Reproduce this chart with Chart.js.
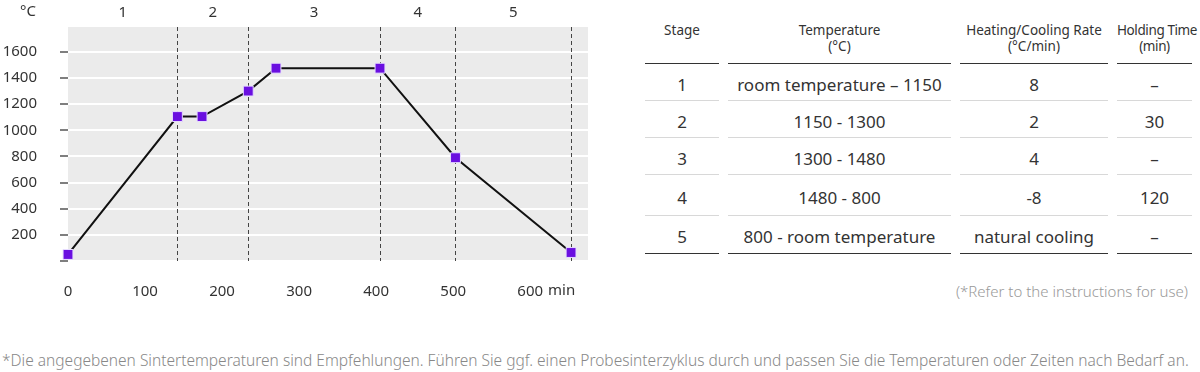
<!DOCTYPE html>
<html>
<head>
<meta charset="utf-8">
<script src="https://cdn.jsdelivr.net/npm/chart.js@4/dist/chart.umd.min.js"></script>
<style>
  body { margin: 0; background: #fff; font-family: "Noto Sans", sans-serif; color: #333; }
  #wrap { position: relative; width: 1200px; height: 372px; overflow: hidden; }
  #chartBox { position: absolute; left: 0; top: 0; width: 600px; height: 310px; }
  #stageTable { position: absolute; left: 636px; top: 14px; width: 565px; table-layout: fixed;
    border-collapse: separate; border-spacing: 9px 0; }
  #stageTable th { font-weight: 400; font-size: 13.5px; line-height: 16px; padding: 8px 0 9px 0; vertical-align: top;
    border-bottom: 1px solid #333; white-space: nowrap; text-align: center; }
  #stageTable th:last-child { letter-spacing: -0.4px; }
  #stageTable td { font-size: 17px; text-align: center; padding: 4px 0 0 0; border-bottom: 1px solid #d8d8d8; white-space: nowrap; }
  #stageTable tr:last-child td { border-bottom: 1px solid #333; }
  #refNote { position: absolute; right: 12px; top: 281px; font-size: 15px; font-weight: 300; color: #999; white-space: nowrap; }
  #footNote { position: absolute; left: 2px; top: 349px; font-size: 15.5px; font-weight: 300; color: #888; white-space: nowrap; }
</style>
</head>
<body>
<div id="wrap">
  <div id="chartBox"><canvas id="profile"></canvas></div>
  <table id="stageTable"><thead><tr id="headRow"></tr></thead><tbody id="bodyRows"></tbody></table>
  <div id="refNote">(*Refer to the instructions for use)</div>
  <div id="footNote">*Die angegebenen Sintertemperaturen sind Empfehlungen. Führen Sie ggf. einen Probesinterzyklus durch und passen Sie die Temperaturen oder Zeiten nach Bedarf an.</div>
</div>
<script>
// sintering profile
const timeMin = [0, 142, 174, 234, 270, 405, 503, 653];
const tempC = [50, 1105, 1105, 1300, 1475, 1475, 790, 65];

const stageNames = ['1', '2', '3', '4', '5'];
const stageEnds = [142, 234, 405, 503, 653];

const xTicks = [0, 100, 200, 300, 400, 500, 600];
const yTicks = [0, 200, 400, 600, 800, 1000, 1200, 1400, 1600];
const xMax = 675;
const yMax = 1790;

const tableHead = [['Stage'], ['Temperature', '(°C)'], ['Heating/Cooling Rate', '(°C/min)'], ['Holding Time', '(min)']];
const colWidths = [74, 223, 148, 75];
const rowHeights = [37, 37, 37, 41, 38];
const stageCol = ['1', '2', '3', '4', '5'];
const tempCol = ['room temperature – 1150', '1150 - 1300', '1300 - 1480', '1480 - 800', '800 - room temperature'];
const rateCol = ['8', '2', '4', '-8', 'natural cooling'];
const holdCol = ['–', '30', '–', '120', '–'];

// table
const headRow = document.getElementById('headRow');
tableHead.forEach((lines, i) => {
  const th = document.createElement('th');
  th.style.width = colWidths[i] + 'px';
  th.innerHTML = lines.join('<br>');
  headRow.appendChild(th);
});
const bodyRows = document.getElementById('bodyRows');
stageCol.forEach((s, r) => {
  const tr = document.createElement('tr');
  [s, tempCol[r], rateCol[r], holdCol[r]].forEach(txt => {
    const td = document.createElement('td');
    td.style.height = (rowHeights[r] - 5) + 'px';
    td.textContent = txt;
    tr.appendChild(td);
  });
  bodyRows.appendChild(tr);
});

const labelFont = '15px "Noto Sans", sans-serif';

const stagePlugin = {
  id: 'stages',
  beforeDraw(chart) {
    const a = chart.chartArea;
    const ctx = chart.ctx;
    ctx.save();
    ctx.fillStyle = '#ebebeb';
    ctx.fillRect(a.left, a.top, a.right - a.left, a.bottom - a.top);
    ctx.restore();
  },
  beforeDatasetsDraw(chart) {
    const a = chart.chartArea;
    const ctx = chart.ctx;
    const xs = chart.scales.x;
    ctx.save();
    ctx.strokeStyle = '#444';
    ctx.lineWidth = 1;
    ctx.setLineDash([4, 3]);
    stageEnds.forEach(t => {
      const px = Math.round(xs.getPixelForValue(t)) + 0.5;
      ctx.beginPath();
      ctx.moveTo(px, a.top);
      ctx.lineTo(px, a.bottom);
      ctx.stroke();
    });
    ctx.restore();
  },
  afterDraw(chart) {
    const ctx = chart.ctx;
    const xs = chart.scales.x;
    const a = chart.chartArea;
    ctx.save();
    ctx.font = labelFont;
    ctx.fillStyle = '#333';
    ctx.textBaseline = 'middle';
    ctx.textAlign = 'center';
    let start = 0;
    stageEnds.forEach((end, i) => {
      ctx.fillText(stageNames[i], xs.getPixelForValue((start + end) / 2), 13);
      start = end;
    });
    ctx.fillText('°C', 28, 12);
    // unit after the last x tick
    const last = xTicks[xTicks.length - 1];
    const pxLast = xs.getPixelForValue(last);
    ctx.textAlign = 'left';
    ctx.fillText('min', pxLast + ctx.measureText(String(last)).width / 2 + 5, a.bottom + 30);
    ctx.restore();
  }
};

new Chart(document.getElementById('profile'), {
  type: 'line',
  data: {
    datasets: [{
      data: timeMin.map((t, i) => ({ x: t, y: tempC[i] })),
      borderColor: '#111',
      borderWidth: 2,
      tension: 0,
      pointStyle: 'rect',
      pointRadius: 7,
      pointHoverRadius: 7,
      pointBackgroundColor: '#6a0fe0',
      pointBorderColor: '#e6dcff',
      pointBorderWidth: 1,
      clip: false
    }]
  },
  options: {
    responsive: true,
    maintainAspectRatio: false,
    animation: false,
    layout: { padding: { top: 27, right: 12, left: 0, bottom: 0 } },
    plugins: { legend: { display: false }, tooltip: { enabled: false } },
    scales: {
      x: {
        type: 'linear',
        min: 0,
        max: xMax,
        border: { display: false },
        grid: { display: false },
        afterBuildTicks(scale) { scale.ticks = xTicks.map(v => ({ value: v })); },
        ticks: {
          padding: 14,
          color: '#333',
          font: { family: '"Noto Sans", sans-serif', size: 15 },
          maxRotation: 0,
          autoSkip: false
        },
        afterFit(scale) { scale.height = 49; }
      },
      y: {
        min: 0,
        max: yMax,
        border: { display: false },
        grid: { color: '#ffffff', lineWidth: 2, tickColor: '#555', tickLength: 8, tickWidth: 1.5 },
        afterBuildTicks(scale) { scale.ticks = yTicks.map(v => ({ value: v })); },
        ticks: {
          padding: 23,
          color: '#333',
          autoSkip: false,
          font: { family: '"Noto Sans", sans-serif', size: 15 },
          callback: v => v === 0 ? '' : v
        },
        afterFit(scale) {
          scale.width = 68;
          // the label padding would otherwise push the plot top down
          scale.paddingTop = 0;
          scale.paddingBottom = 0;
        }
      }
    }
  },
  plugins: [stagePlugin]
});
</script>
</body>
</html>
